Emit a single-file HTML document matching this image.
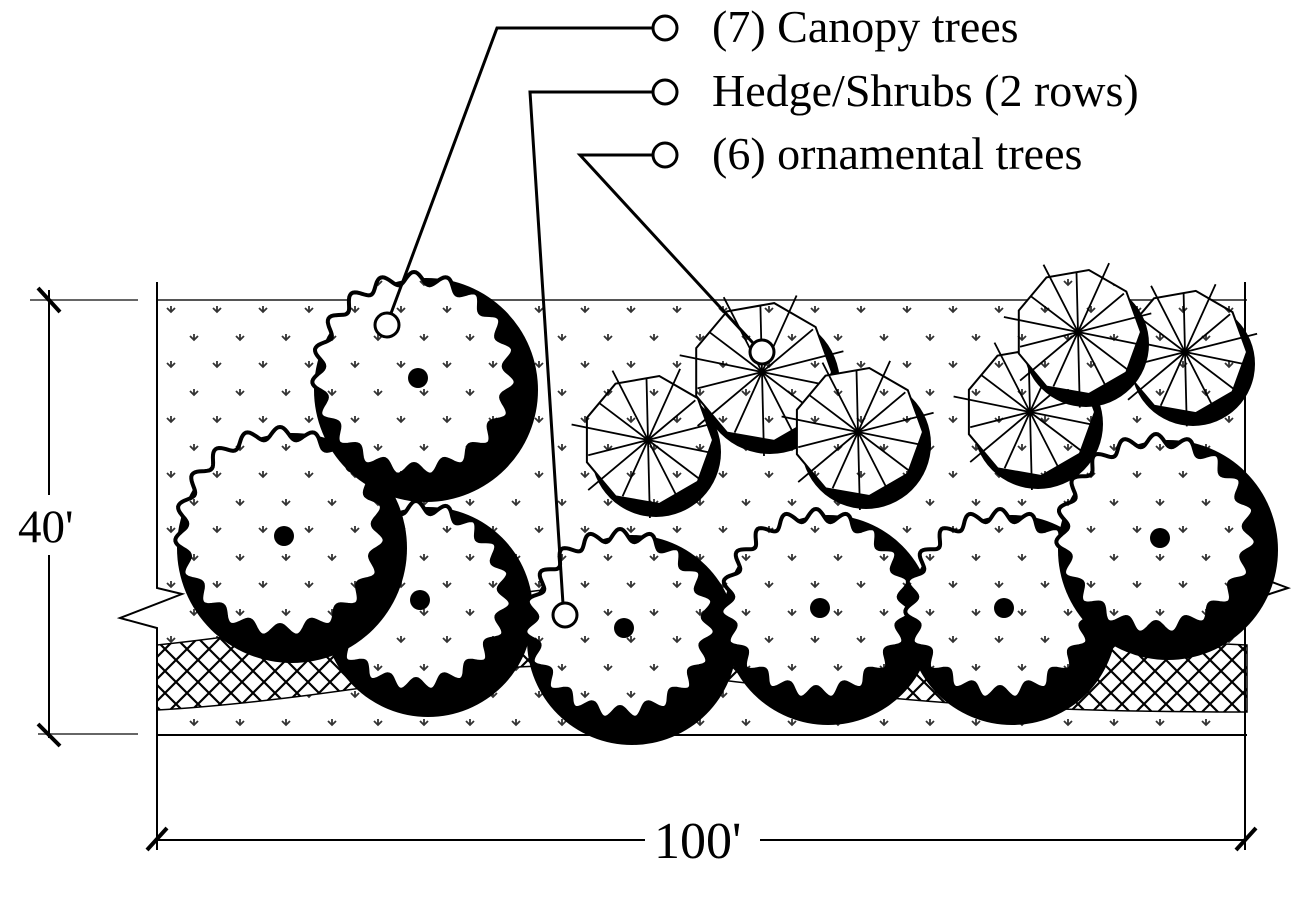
<!DOCTYPE html>
<html><head><meta charset="utf-8"><style>
html,body{margin:0;padding:0;background:#fff;width:1309px;height:899px;overflow:hidden}
svg{display:block}
text{font-family:"Liberation Serif",serif;fill:#000}
</style></head><body>
<svg id="s" width="1309" height="899" viewBox="0 0 1309 899" xmlns="http://www.w3.org/2000/svg">
<defs>
<pattern id="dots" x="0" y="0" width="46" height="55" patternUnits="userSpaceOnUse">
<path d="M6 6 l4 4 l4 -4 M10 10 v-6" stroke="#333" stroke-width="1.8" fill="none"/>
<path d="M29 33 l4 4 l4 -4 M33 37 v-6" stroke="#333" stroke-width="1.8" fill="none"/>
</pattern>
<pattern id="hatch" width="22" height="22" patternUnits="userSpaceOnUse">
<path d="M0 0 L22 22 M22 0 L0 22" stroke="#000" stroke-width="2.2"/>
</pattern>
</defs>
<rect x="157" y="300" width="1090" height="435" fill="url(#dots)"/>
<path d="M157 645 C300 630 450 600 560 588 C700 600 900 630 1247 645 L1247 712 C1000 712 900 700 720 680 C600 660 560 665 500 668 C350 690 250 705 157 710 Z" fill="#fff"/>
<path d="M157 645 C300 630 450 600 560 588 C700 600 900 630 1247 645 L1247 712 C1000 712 900 700 720 680 C600 660 560 665 500 668 C350 690 250 705 157 710 Z" fill="url(#hatch)" stroke="#000" stroke-width="1.5"/>
<line x1="157" y1="300" x2="1247" y2="300" stroke="#555" stroke-width="2"/>
<line x1="157" y1="735" x2="1247" y2="735" stroke="#000" stroke-width="2"/>
<path d="M157 282 L157 588 L182 594 L120 618 L157 628 L157 850" fill="none" stroke="#000" stroke-width="2"/>
<path d="M1245 282 L1245 572 L1288 588 L1245 602 L1245 850" fill="none" stroke="#000" stroke-width="2"/>
<g id="trees"></g>
<line x1="49" y1="290" x2="49" y2="738" stroke="#000" stroke-width="2"/>
<line x1="30" y1="300" x2="138" y2="300" stroke="#666" stroke-width="2"/>
<line x1="38" y1="734" x2="138" y2="734" stroke="#666" stroke-width="2"/>
<line x1="38" y1="288" x2="60" y2="312" stroke="#000" stroke-width="4"/>
<line x1="38" y1="724" x2="60" y2="746" stroke="#000" stroke-width="4"/>
<rect x="10" y="495" width="75" height="60" fill="#fff"/>
<text x="18" y="542" font-size="47">40'</text>
<line x1="157" y1="840" x2="645" y2="840" stroke="#000" stroke-width="2"/>
<line x1="760" y1="840" x2="1247" y2="840" stroke="#000" stroke-width="2"/>
<line x1="147" y1="850" x2="167" y2="828" stroke="#000" stroke-width="4"/>
<line x1="1236" y1="850" x2="1256" y2="828" stroke="#000" stroke-width="4"/>
<text x="654" y="858" font-size="52">100'</text>
<g fill="none" stroke="#000" stroke-width="3">
<path d="M653 28 L497 28 L390 316"/>
<path d="M653 92 L530 92 L563 604"/>
<path d="M653 155 L580 155 L753 343"/>
</g>
<g fill="#fff" stroke="#000" stroke-width="3">
<circle cx="665" cy="28" r="12"/><circle cx="665" cy="92" r="12"/><circle cx="665" cy="155" r="12"/>
</g>
<text x="712" y="42" font-size="46">(7) Canopy trees</text>
<text x="712" y="106" font-size="46">Hedge/Shrubs (2 rows)</text>
<text x="712" y="169" font-size="46">(6) ornamental trees</text>
<g id="over"></g>
</svg>
<script>
var g=document.getElementById('trees'),h='';
function canopy(cx,cy,R){
 h+='<circle cx="'+cx+'" cy="'+cy+'" r="'+R+'" fill="#000"/>';
 var p='';for(var i=0;i<=360;i++){var t=i*Math.PI/180,r=R-16+6*Math.sin(t*19);var x=cx-12+r*Math.cos(t),y=cy-16+r*Math.sin(t);p+=(i?'L':'M')+x.toFixed(1)+' '+y.toFixed(1);}
 h+='<path d="'+p+'Z" fill="#fff"/><path d="'+p+'Z" fill="url(#dots)" stroke="#000" stroke-width="4"/>';
 h+='<circle cx="'+(cx-8)+'" cy="'+(cy-12)+'" r="10" fill="#000"/>';
}
function orn(cx,cy,R){
 h+='<circle cx="'+(cx+8)+'" cy="'+(cy+12)+'" r="'+R+'" fill="#000"/>';
 var p='';for(var i=0;i<9;i++){var t=i*2*Math.PI/9;p+=(i?'L':'M')+(cx+R*Math.cos(t)).toFixed(1)+' '+(cy+R*Math.sin(t)).toFixed(1);}
 h+='<path d="'+p+'Z" fill="#fff"/><path d="'+p+'Z" fill="url(#dots)" stroke="#000" stroke-width="2"/>';
 for(var i=0;i<14;i++){var t=i*2*Math.PI/14+0.2,L=R*(i%2?1.2:0.95);h+='<line x1="'+cx+'" y1="'+cy+'" x2="'+(cx+L*Math.cos(t)).toFixed(1)+'" y2="'+(cy+L*Math.sin(t)).toFixed(1)+'" stroke="#000" stroke-width="1.8"/>';}
}
orn(648,440,65);orn(762,372,70);orn(858,432,65);orn(1030,412,65);orn(1185,352,62);orn(1078,332,63);
canopy(428,612,105);canopy(292,548,115);canopy(426,390,112);canopy(632,640,105);canopy(828,620,105);canopy(1012,620,105);canopy(1168,550,110);
g.innerHTML=h;
document.getElementById('over').innerHTML='<g fill="#fff" stroke="#000" stroke-width="3"><circle cx="387" cy="325" r="12"/><circle cx="565" cy="615" r="12"/><circle cx="762" cy="352" r="12"/></g>';
</script>
</body></html>
